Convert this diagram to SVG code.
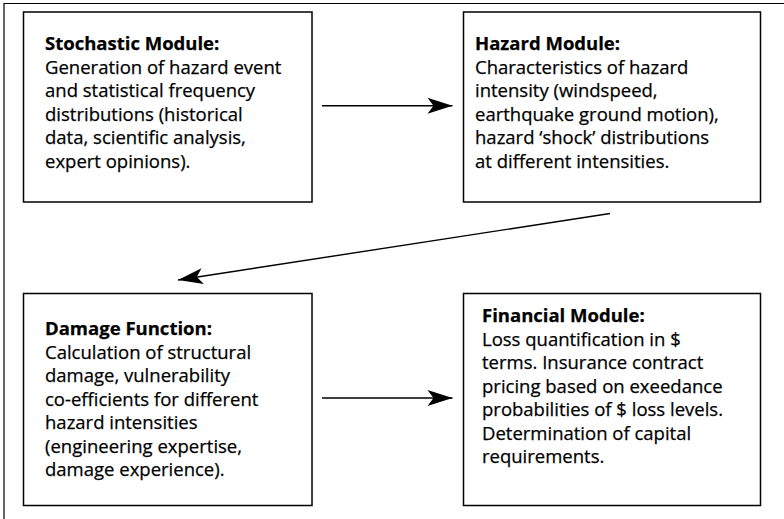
<svg xmlns="http://www.w3.org/2000/svg" width="784" height="519" viewBox="0 0 784 519">
  <style>
    .box { fill: #ffffff; stroke: #000000; stroke-width: 1.5; }
    .frame { fill: none; stroke: #000000; stroke-width: 1.2; }
    .conn { fill: none; stroke: #000000; stroke-width: 1.4; }
    text { font-family: "Open Sans", "Liberation Sans", Arial, sans-serif; font-size: 18.5px; fill: #000000; stroke: #000000; stroke-width: 0.25; }
    .title { font-weight: bold; }
  </style>
  <defs>
    <marker id="arrow" markerUnits="userSpaceOnUse" markerWidth="28" markerHeight="20" viewBox="-26 -10 28 20" refX="0" refY="0" orient="auto">
      <path d="M0,0 L-25,-8 L-19,0 L-25,8 Z" fill="#000000"/>
    </marker>
  </defs>
  <rect width="784" height="519" fill="#ffffff"/>

  <!-- page frame: top rule and left rule -->
  <path class="frame" d="M4,519 L4,3.5 L784,3.5"/>

  <g id="stochastic-module">
    <rect class="box" x="23.5" y="12" width="288.5" height="190"/>
    <text x="45" y="50"><tspan class="title">Stochastic Module:</tspan>
      <tspan x="45" y="73.5">Generation of hazard event</tspan>
      <tspan x="45" y="97">and statistical frequency</tspan>
      <tspan x="45" y="120.5">distributions (historical</tspan>
      <tspan x="45" y="144">data, scientific analysis,</tspan>
      <tspan x="45" y="167.5">expert opinions).</tspan>
    </text>
  </g>

  <g id="hazard-module">
    <rect class="box" x="463.5" y="12" width="297" height="190"/>
    <text x="475" y="50"><tspan class="title">Hazard Module:</tspan>
      <tspan x="475" y="73.5">Characteristics of hazard</tspan>
      <tspan x="475" y="97">intensity (windspeed,</tspan>
      <tspan x="475" y="120.5">earthquake ground motion),</tspan>
      <tspan x="475" y="144">hazard ‘shock’ distributions</tspan>
      <tspan x="475" y="167.5">at different intensities.</tspan>
    </text>
  </g>

  <g id="damage-function">
    <rect class="box" x="23.5" y="293.5" width="288.5" height="212"/>
    <text x="45" y="335"><tspan class="title">Damage Function:</tspan>
      <tspan x="45" y="358.5">Calculation of structural</tspan>
      <tspan x="45" y="382">damage, vulnerability</tspan>
      <tspan x="45" y="405.5">co-efficients for different</tspan>
      <tspan x="45" y="429">hazard intensities</tspan>
      <tspan x="45" y="452.5">(engineering expertise,</tspan>
      <tspan x="45" y="476">damage experience).</tspan>
    </text>
  </g>

  <g id="financial-module">
    <rect class="box" x="463.5" y="293.5" width="297" height="212"/>
    <text x="482" y="322"><tspan class="title">Financial Module:</tspan>
      <tspan x="482" y="345.5">Loss quantification in $</tspan>
      <tspan x="482" y="369">terms. Insurance contract</tspan>
      <tspan x="482" y="392.5">pricing based on exeedance</tspan>
      <tspan x="482" y="416">probabilities of $ loss levels.</tspan>
      <tspan x="482" y="439.5">Determination of capital</tspan>
      <tspan x="482" y="463">requirements.</tspan>
    </text>
  </g>

  <g id="connectors">
    <line class="conn" x1="322" y1="105.8" x2="452.5" y2="105.8" marker-end="url(#arrow)"/>
    <line class="conn" x1="610" y1="213.5" x2="178" y2="280" marker-end="url(#arrow)"/>
    <line class="conn" x1="322" y1="398" x2="452.5" y2="398" marker-end="url(#arrow)"/>
  </g>
</svg>
